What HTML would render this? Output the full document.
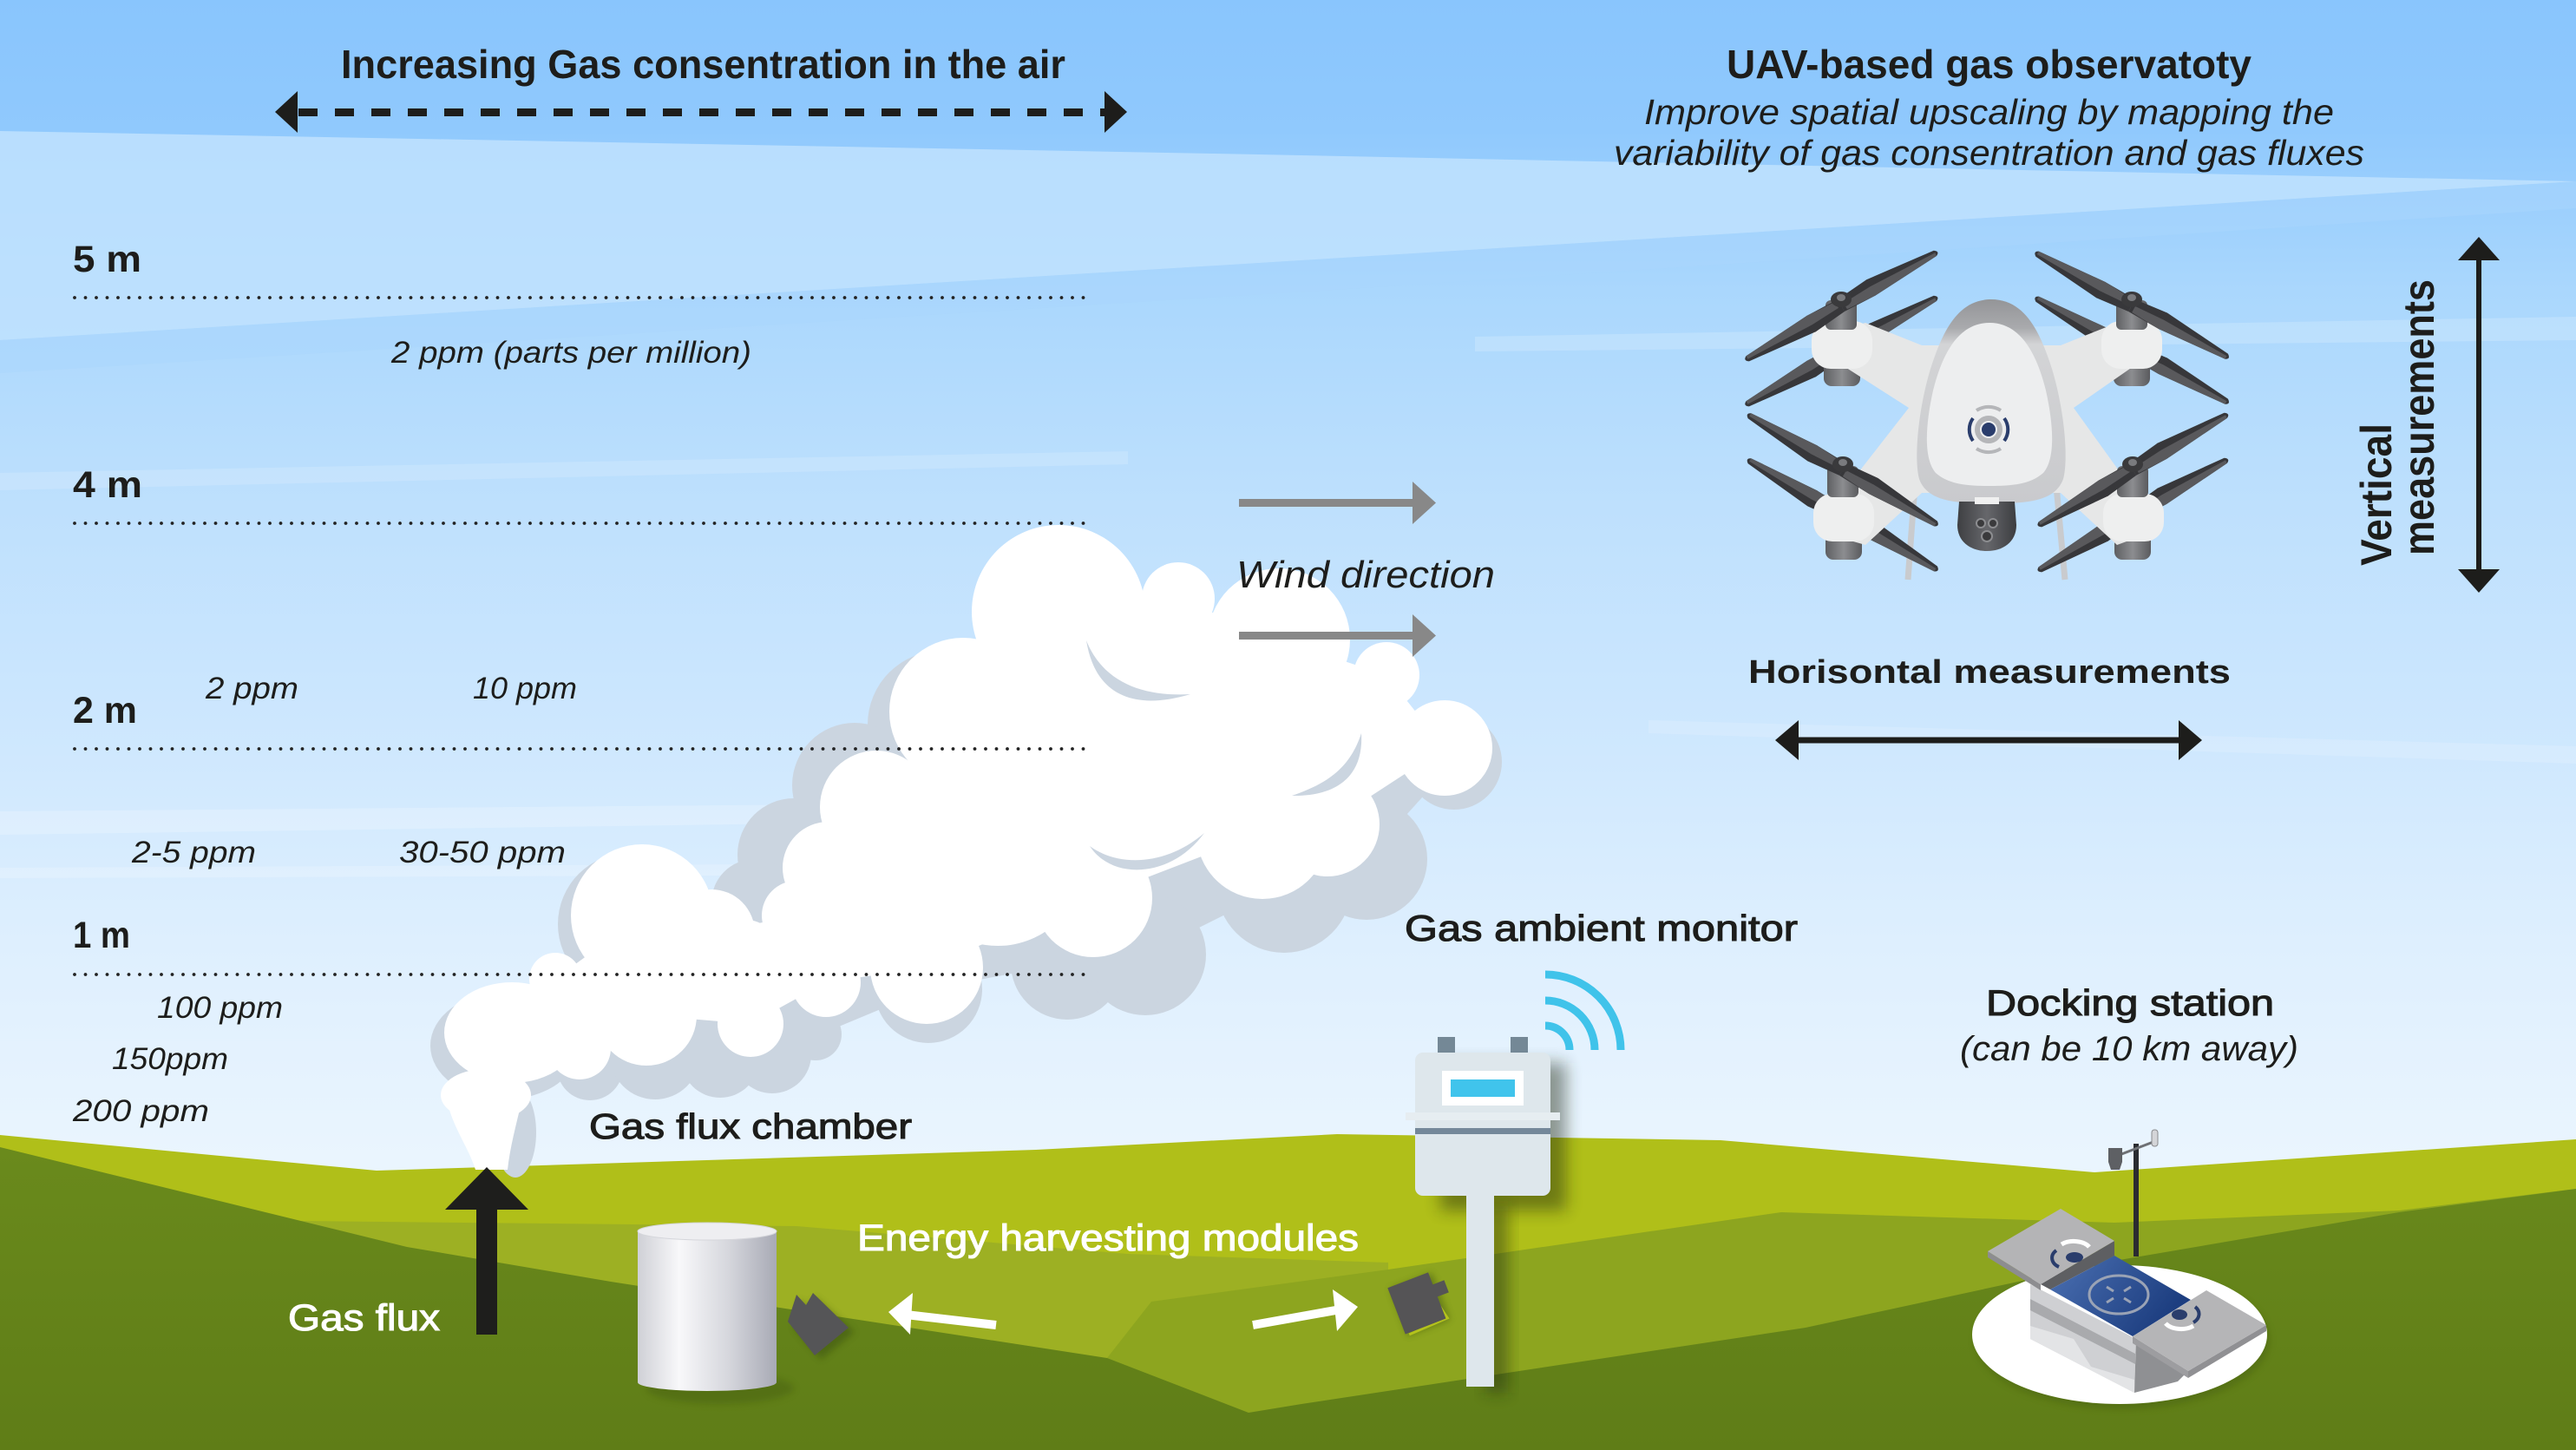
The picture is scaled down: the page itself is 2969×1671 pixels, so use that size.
<!DOCTYPE html>
<html><head><meta charset="utf-8">
<style>
html,body{margin:0;padding:0;width:2969px;height:1671px;overflow:hidden;background:#EEF7FE;}
svg{display:block}
text{font-family:"Liberation Sans",sans-serif;fill:#1D1D1B;}
.it{font-style:italic;}
.bd{font-weight:bold;}
.md{stroke:#1D1D1B;stroke-width:1.1px;}
.wh{fill:#FFFFFF;stroke:#FFFFFF;stroke-width:1.1px;}
</style></head><body>
<svg width="2969" height="1671" viewBox="0 0 2969 1671" xmlns="http://www.w3.org/2000/svg">
<defs>
 <linearGradient id="sky" x1="0" y1="0" x2="0" y2="1671" gradientUnits="userSpaceOnUse">
  <stop offset="0" stop-color="#89C5FD"/>
  <stop offset="0.09" stop-color="#90C9FD"/>
  <stop offset="0.2" stop-color="#AAD7FD"/>
  <stop offset="0.35" stop-color="#BEE0FD"/>
  <stop offset="0.5" stop-color="#CDE7FE"/>
  <stop offset="0.65" stop-color="#DEEFFE"/>
  <stop offset="0.8" stop-color="#EAF5FE"/>
  <stop offset="1" stop-color="#EEF7FE"/>
 </linearGradient>
 <linearGradient id="dark" x1="0" y1="1320" x2="0" y2="1671" gradientUnits="userSpaceOnUse">
  <stop offset="0" stop-color="#6A8A1C"/>
  <stop offset="1" stop-color="#5F7D17"/>
 </linearGradient>
 <linearGradient id="cyl" x1="735" y1="0" x2="895" y2="0" gradientUnits="userSpaceOnUse">
  <stop offset="0" stop-color="#CFD0D6"/>
  <stop offset="0.3" stop-color="#F8F8FA"/>
  <stop offset="0.65" stop-color="#D6D7DD"/>
  <stop offset="1" stop-color="#A8AAB5"/>
 </linearGradient>
 <linearGradient id="egg" x1="0" y1="345" x2="0" y2="580" gradientUnits="userSpaceOnUse">
  <stop offset="0" stop-color="#949598"/>
  <stop offset="0.14" stop-color="#A9AAAD"/>
  <stop offset="0.22" stop-color="#D3D4D6"/>
  <stop offset="1" stop-color="#C9CACD"/>
 </linearGradient>
 <linearGradient id="motor" x1="0" y1="0" x2="1" y2="0">
  <stop offset="0" stop-color="#5E5F62"/>
  <stop offset="0.5" stop-color="#8C8D90"/>
  <stop offset="1" stop-color="#5A5B5E"/>
 </linearGradient>
 <linearGradient id="pad" x1="2363" y1="1450" x2="2480" y2="1540" gradientUnits="userSpaceOnUse">
  <stop offset="0" stop-color="#4B70B2"/>
  <stop offset="1" stop-color="#1D3E80"/>
 </linearGradient>
 <linearGradient id="cam" x1="0" y1="0" x2="1" y2="0">
  <stop offset="0" stop-color="#3E3F42"/>
  <stop offset="0.5" stop-color="#66676B"/>
  <stop offset="1" stop-color="#3C3D40"/>
 </linearGradient>
 <filter id="blur" x="-50%" y="-50%" width="200%" height="200%"><feGaussianBlur stdDeviation="9"/></filter>
 <filter id="blur4" x="-50%" y="-50%" width="200%" height="200%"><feGaussianBlur stdDeviation="4"/></filter>
 <g id="blade">
  <path d="M0,-8 L40,-12 L124,-4 Q130,0 124,3 L40,9 L0,8 Z" fill="#37373A"/>
  <path d="M4,-1 L40,-3 L124,-1 L124,3 L40,9 L4,7 Z" fill="#59595C"/>
 </g>
</defs>

<!-- SKY -->
<rect x="0" y="0" width="2969" height="1671" fill="url(#sky)"/>
<polygon points="0,151 1400,177 2969,209 1500,300 0,392" fill="#BFE2FE" opacity="0.85"/>
<polygon points="0,392 1500,300 2969,209 2969,240 1600,330 0,430" fill="#A9D6FD" opacity="0.5"/>
<polygon points="1700,388 2969,365 2969,392 1700,405" fill="#FFFFFF" opacity="0.18"/>
<polygon points="0,545 1300,520 1300,535 0,565" fill="#FFFFFF" opacity="0.15"/>
<polygon points="0,935 1200,925 1200,945 0,962" fill="#FFFFFF" opacity="0.22"/>
<polygon points="0,1000 1100,995 1100,1008 0,1012" fill="#FFFFFF" opacity="0.2"/>
<polygon points="1900,830 2969,860 2969,880 1900,845" fill="#FFFFFF" opacity="0.15"/>

<!-- GROUND -->
<polygon points="0,1308 434,1349 1194,1325 1541,1307 1983,1314 2414,1351 2969,1313 2969,1671 0,1671" fill="#B0BF19"/>
<polygon points="0,1407 347,1407 918,1413 1300,1445 1600,1455 1600,1671 0,1671" fill="#9DB023"/>
<polygon points="1327,1500 1600,1463 2053,1397 2437,1409 2765,1395 2969,1370 2969,1671 1276,1671 1276,1565" fill="#8DA51F"/>
<polygon points="0,1322 469,1437 704,1477 1276,1565 1439,1628 1500,1618 2081,1530 2437,1453 2765,1397 2969,1370 2969,1671 0,1671" fill="url(#dark)"/>

<!-- CLOUD shadow -->
<g fill="#CBD5E0">
 <polygon points="1085,835 985,905 915,985 870,1040 725,1065 582,1205 680,1230 755,1215 830,1220 890,1215 1070,1140 1230,1110 1320,1100 1480,1020 1575,990 1676,878 1500,850 1200,800"/>
 <circle cx="1085" cy="835" r="85"/>
 <circle cx="985" cy="905" r="72"/>
 <circle cx="915" cy="985" r="65"/>
 <circle cx="870" cy="1040" r="50"/>
 <circle cx="725" cy="1065" r="82"/>
 <ellipse cx="582" cy="1205" rx="86" ry="62"/>
 <circle cx="680" cy="1230" r="38"/>
 <circle cx="755" cy="1215" r="52"/>
 <circle cx="830" cy="1220" r="45"/>
 <circle cx="890" cy="1215" r="45"/>
 <circle cx="940" cy="1192" r="30"/>
 <circle cx="1070" cy="1140" r="62"/>
 <circle cx="1230" cy="1110" r="65"/>
 <circle cx="1320" cy="1100" r="70"/>
 <circle cx="1480" cy="1020" r="78"/>
 <circle cx="1575" cy="990" r="70"/>
 <circle cx="1676" cy="878" r="55"/>
 <ellipse cx="594" cy="1305" rx="24" ry="52"/>
</g>
<!-- CLOUD white -->
<g fill="#FFFFFF">
 <polygon points="1110,820 1220,705 1358,690 1474,737 1598,778 1665,862 1530,950 1455,960 1260,1035 1068,1115 952,1132 865,1180 745,1170 668,1208 590,1190 640,1128 740,1055 820,1075 918,1055 955,1000 1010,930"/>
 <circle cx="1220" cy="705" r="100"/>
 <circle cx="1358" cy="690" r="42"/>
 <circle cx="1474" cy="737" r="82"/>
 <circle cx="1598" cy="778" r="38"/>
 <circle cx="1665" cy="862" r="55"/>
 <circle cx="1530" cy="950" r="60"/>
 <circle cx="1455" cy="960" r="76"/>
 <circle cx="1260" cy="1035" r="68"/>
 <circle cx="1068" cy="1115" r="65"/>
 <circle cx="952" cy="1132" r="40"/>
 <circle cx="865" cy="1180" r="38"/>
 <circle cx="745" cy="1170" r="58"/>
 <circle cx="668" cy="1208" r="36"/>
 <ellipse cx="590" cy="1190" rx="78" ry="58"/>
 <circle cx="640" cy="1128" r="30"/>
 <circle cx="740" cy="1055" r="82"/>
 <circle cx="820" cy="1075" r="50"/>
 <circle cx="860" cy="1095" r="35"/>
 <circle cx="918" cy="1055" r="40"/>
 <circle cx="955" cy="1000" r="53"/>
 <circle cx="1010" cy="930" r="65"/>
 <circle cx="1110" cy="820" r="85"/>
 <circle cx="1260" cy="870" r="140"/>
 <circle cx="1380" cy="860" r="110"/>
 <circle cx="1150" cy="990" r="100"/>
 <ellipse cx="560" cy="1262" rx="52" ry="30"/>
 <path d="M515,1268 C522,1300 540,1322 548,1348 L585,1348 C588,1320 596,1292 603,1262 Z"/>
</g>
<g fill="#CBD5E0">
 <path d="M1252,738 C1262,800 1305,820 1372,800 C1320,803 1272,788 1252,738 Z"/>
 <path d="M1569,845 C1572,895 1540,918 1489,917 C1530,903 1556,885 1569,845 Z"/>
 <path d="M1256,975 C1282,1015 1350,1012 1388,960 C1345,997 1290,1000 1256,975 Z"/>
</g>

<!-- Dotted height lines -->
<g stroke="#222222" stroke-width="3.8" stroke-linecap="round" stroke-dasharray="0 12.5" fill="none">
 <line x1="86" y1="343" x2="1254" y2="343"/>
 <line x1="86" y1="603" x2="1254" y2="603"/>
 <line x1="86" y1="863" x2="1254" y2="863"/>
 <line x1="86" y1="1123" x2="1254" y2="1123"/>
</g>

<!-- Top dashed double arrow -->
<line x1="344" y1="129.5" x2="1274" y2="129.5" stroke="#1D1D1B" stroke-width="9" stroke-dasharray="22 20"/>
<polygon points="317,129 343,105 343,153" fill="#1D1D1B"/>
<polygon points="1299,129 1273,105 1273,153" fill="#1D1D1B"/>

<!-- Titles -->
<text class="bd" x="393" y="90" font-size="46" textLength="835" lengthAdjust="spacingAndGlyphs">Increasing Gas consentration in the air</text>
<text class="bd" x="1990" y="90" font-size="46" textLength="605" lengthAdjust="spacingAndGlyphs">UAV-based gas observatoty</text>
<text class="it" x="1895" y="143" font-size="41" textLength="795" lengthAdjust="spacingAndGlyphs">Improve spatial upscaling by mapping the</text>
<text class="it" x="1860" y="190" font-size="41" textLength="865" lengthAdjust="spacingAndGlyphs">variability of gas consentration and gas fluxes</text>

<!-- Height labels -->
<text class="bd" x="84" y="313" font-size="43" textLength="79" lengthAdjust="spacingAndGlyphs">5 m</text>
<text class="bd" x="84" y="573" font-size="43" textLength="80" lengthAdjust="spacingAndGlyphs">4 m</text>
<text class="bd" x="84" y="833" font-size="43" textLength="74" lengthAdjust="spacingAndGlyphs">2 m</text>
<text class="bd" x="84" y="1092" font-size="43" textLength="66" lengthAdjust="spacingAndGlyphs">1 m</text>

<!-- ppm labels -->
<text class="it" x="451" y="418" font-size="35" textLength="415" lengthAdjust="spacingAndGlyphs">2 ppm (parts per million)</text>
<text class="it" x="237" y="805" font-size="35" textLength="107" lengthAdjust="spacingAndGlyphs">2 ppm</text>
<text class="it" x="545" y="805" font-size="35" textLength="120" lengthAdjust="spacingAndGlyphs">10 ppm</text>
<text class="it" x="152" y="994" font-size="35" textLength="143" lengthAdjust="spacingAndGlyphs">2-5 ppm</text>
<text class="it" x="460" y="994" font-size="35" textLength="192" lengthAdjust="spacingAndGlyphs">30-50 ppm</text>
<text class="it" x="181" y="1173" font-size="35" textLength="145" lengthAdjust="spacingAndGlyphs">100 ppm</text>
<text class="it" x="129" y="1232" font-size="35" textLength="134" lengthAdjust="spacingAndGlyphs">150ppm</text>
<text class="it" x="84" y="1292" font-size="35" textLength="157" lengthAdjust="spacingAndGlyphs">200 ppm</text>

<!-- Wind -->
<g fill="#888888">
 <rect x="1428" y="575" width="202" height="9"/>
 <polygon points="1628,555 1655,579.5 1628,604"/>
 <rect x="1428" y="728" width="202" height="9"/>
 <polygon points="1628,708 1655,732.5 1628,757"/>
</g>
<text class="it" x="1425" y="677" font-size="44" textLength="298" lengthAdjust="spacingAndGlyphs">Wind direction</text>

<!-- Gas flux arrow -->
<rect x="549" y="1390" width="24" height="148" fill="#1E1E1C"/>
<polygon points="561,1345 609,1394 513,1394" fill="#1E1E1C"/>
<text class="wh" x="332" y="1533" font-size="43" textLength="175" lengthAdjust="spacingAndGlyphs">Gas flux</text>
<text class="md" x="679" y="1312" font-size="41" textLength="372" lengthAdjust="spacingAndGlyphs">Gas flux chamber</text>
<text class="wh" x="988" y="1441" font-size="43" textLength="578" lengthAdjust="spacingAndGlyphs">Energy harvesting modules</text>

<!-- Cylinder chamber -->
<ellipse cx="830" cy="1600" rx="85" ry="18" fill="#3E5510" opacity="0.35" filter="url(#blur4)"/>
<rect x="735" y="1419" width="160" height="174" fill="url(#cyl)"/>
<ellipse cx="815" cy="1593" rx="80" ry="10" fill="url(#cyl)"/>
<ellipse cx="815" cy="1419" rx="80" ry="10" fill="#EEEEF1" stroke="#D5D6DB" stroke-width="1"/>

<!-- Module 1 -->
<polygon points="915,1530 922,1497 932,1508 940,1495 985,1535 946,1567" fill="#2F4210" opacity="0.4" filter="url(#blur4)"/>
<polygon points="908,1523 918,1492 929,1504 937,1490 978,1530 939,1562" fill="#555557"/>

<!-- White arrows -->
<line x1="1148" y1="1527" x2="1044" y2="1515" stroke="#FFFFFF" stroke-width="10"/>
<polygon points="1024,1512 1052,1490 1049,1538" fill="#FFFFFF"/>
<line x1="1444" y1="1527" x2="1545" y2="1509" stroke="#FFFFFF" stroke-width="10"/>
<polygon points="1565,1506 1536,1486 1541,1534" fill="#FFFFFF"/>

<!-- Module 2 -->
<g transform="translate(1634,1502) rotate(-21)">
 <rect x="-24" y="-27" width="52" height="58" fill="#2F4210" opacity="0.4" filter="url(#blur4)"/>
 <rect x="22" y="-14" width="16" height="15" fill="#555456"/>
 <path d="M22,10 L26,28 L-22,30" fill="none" stroke="#B4C21C" stroke-width="3"/>
 <rect x="-26" y="-29" width="50" height="57" fill="#555456"/>
</g>

<!-- Gas ambient monitor -->
<rect x="1660" y="1225" width="145" height="170" fill="#1B2608" opacity="0.45" filter="url(#blur)"/>
<rect x="1712" y="1390" width="26" height="215" fill="#1B2608" opacity="0.45" filter="url(#blur)"/>
<rect x="1690" y="1375" width="32" height="223" fill="#DEE7EC"/>
<rect x="1657" y="1195" width="20" height="20" fill="#748896"/>
<rect x="1741" y="1195" width="20" height="20" fill="#748896"/>
<rect x="1631" y="1213" width="156" height="165" rx="9" fill="#DEE7EC"/>
<rect x="1620" y="1282" width="178" height="9" fill="#E6EDF1"/>
<rect x="1631" y="1300" width="156" height="7" fill="#74889A"/>
<rect x="1662" y="1234" width="94" height="40" fill="#FFFFFF"/>
<rect x="1672" y="1244" width="74" height="20" fill="#40C4EC"/>
<g fill="none" stroke="#40C3EA" stroke-width="9">
 <path d="M1781,1182 A28,28 0 0 1 1809,1210"/>
 <path d="M1781,1153 A57,57 0 0 1 1838,1210"/>
 <path d="M1781,1123 A87,87 0 0 1 1868,1210"/>
</g>
<text class="md" x="1619" y="1084" font-size="42" textLength="453" lengthAdjust="spacingAndGlyphs">Gas ambient monitor</text>

<!-- Docking station -->
<text class="md" x="2289" y="1170" font-size="42" textLength="332" lengthAdjust="spacingAndGlyphs">Docking station</text>
<text class="it" x="2259" y="1222" font-size="40" textLength="390" lengthAdjust="spacingAndGlyphs">(can be 10 km away)</text>
<ellipse cx="2446" cy="1544" rx="170" ry="80" fill="#3E5510" opacity="0.35" filter="url(#blur4)"/>
<ellipse cx="2443" cy="1538" rx="170" ry="80" fill="#FFFFFF"/>
<rect x="2459" y="1318" width="6" height="130" fill="#2B2C30"/>
<line x1="2440" y1="1332" x2="2487" y2="1314" stroke="#6E7074" stroke-width="3"/>
<path d="M2430,1323 h16 v16 l-3,9 h-10 l-3,-9 Z" fill="#5E6064"/>
<rect x="2480" y="1302" width="7" height="19" rx="3" fill="#D4D5D8" stroke="#8A8B8E" stroke-width="1"/>
<polygon points="2340,1480 2340,1543 2460,1605 2462,1543" fill="#CFD0D3"/>
<polygon points="2340,1497 2461,1560 2461,1572 2340,1510" fill="#A9AAAD"/>
<polygon points="2340,1528 2390,1543 2410,1575 2460,1590 2460,1605 2340,1543" fill="#E3E4E6"/>
<polygon points="2462,1543 2522,1580 2510,1592 2460,1605" fill="#8F9093"/>
<polygon points="2352,1480 2437,1430 2437,1447 2363,1486" fill="#5E5F62"/>
<polygon points="2363,1486 2437,1447 2525,1498 2458,1540" fill="url(#pad)"/>
<ellipse cx="2442" cy="1492" rx="34" ry="22" fill="none" stroke="#9AA3B5" stroke-width="3"/>
<g stroke="#9AA3B5" stroke-width="3">
 <line x1="2428" y1="1483" x2="2436" y2="1488"/>
 <line x1="2456" y1="1483" x2="2448" y2="1488"/>
 <line x1="2428" y1="1501" x2="2436" y2="1496"/>
 <line x1="2456" y1="1501" x2="2448" y2="1496"/>
</g>
<polygon points="2291,1442 2352,1480 2352,1487 2291,1449" fill="#8D8D90"/>
<polygon points="2291,1442 2375,1393 2437,1430 2352,1480" fill="#B4B4B6"/>
<g fill="none" stroke-width="4">
 <path d="M2376,1434 A20,12 0 0 1 2408,1437" stroke="#FFFFFF" stroke-width="5"/>
 <path d="M2370,1441 A16,12 0 0 0 2373,1460" stroke="#2A3D6C"/>
</g>
<ellipse cx="2391" cy="1449" rx="10" ry="6" fill="#2A3D6C"/>
<polygon points="2458,1540 2522,1580 2522,1588 2458,1548" fill="#9D9DA0"/>
<polygon points="2522,1580 2612,1527 2612,1534 2522,1588" fill="#909093"/>
<polygon points="2458,1540 2543,1487 2612,1527 2522,1580" fill="#B5B5B7"/>
<ellipse cx="2512" cy="1515" rx="9" ry="6" fill="#2A3D6C"/>
<g fill="none" stroke-width="4">
 <path d="M2496,1525 A20,12 0 0 0 2528,1528" stroke="#FFFFFF" stroke-width="5"/>
 <path d="M2530,1506 A16,12 0 0 1 2528,1524" stroke="#2A3D6C"/>
</g>

<!-- Horizontal measurements -->
<text class="bd" x="2015" y="787" font-size="38" textLength="556" lengthAdjust="spacingAndGlyphs">Horisontal measurements</text>
<line x1="2068" y1="853" x2="2516" y2="853" stroke="#1D1D1B" stroke-width="7"/>
<polygon points="2046,853 2073,830 2073,876" fill="#1D1D1B"/>
<polygon points="2538,853 2511,830 2511,876" fill="#1D1D1B"/>

<!-- Vertical measurements -->
<line x1="2857" y1="295" x2="2857" y2="661" stroke="#1D1D1B" stroke-width="6"/>
<polygon points="2857,273 2833,300 2881,300" fill="#1D1D1B"/>
<polygon points="2857,683 2833,656 2881,656" fill="#1D1D1B"/>
<text class="bd" transform="translate(2756,652) rotate(-90)" font-size="50" textLength="164" lengthAdjust="spacingAndGlyphs">Vertical</text>
<text class="bd" transform="translate(2805,640) rotate(-90)" font-size="50" textLength="318" lengthAdjust="spacingAndGlyphs">measurements</text>

<!-- DRONE -->
<g>
 <line x1="2207" y1="560" x2="2199" y2="668" stroke="#C9CBCE" stroke-width="7"/>
 <line x1="2370" y1="560" x2="2380" y2="668" stroke="#C9CBCE" stroke-width="7"/>
 <use href="#blade" transform="translate(2122,404) rotate(-28.8)"/>
 <use href="#blade" transform="translate(2122,404) rotate(150.6)"/>
 <use href="#blade" transform="translate(2457,404) rotate(-151.2)"/>
 <use href="#blade" transform="translate(2457,404) rotate(28.5)"/>
 <use href="#blade" transform="translate(2124,593) rotate(-149.9)"/>
 <use href="#blade" transform="translate(2124,593) rotate(30.5)"/>
 <use href="#blade" transform="translate(2458,593) rotate(-29.9)"/>
 <use href="#blade" transform="translate(2458,593) rotate(149.5)"/>
 <rect x="2102" y="415" width="42" height="30" rx="9" fill="url(#motor)"/>
 <rect x="2436" y="415" width="42" height="30" rx="9" fill="url(#motor)"/>
 <rect x="2104" y="614" width="42" height="31" rx="9" fill="url(#motor)"/>
 <rect x="2437" y="614" width="42" height="31" rx="9" fill="url(#motor)"/>
 <polygon points="2150,372 2215,398 2375,398 2440,372 2462,380 2462,420 2390,470 2462,570 2462,620 2440,628 2375,568 2215,568 2150,628 2122,620 2122,570 2200,470 2122,420 2122,380" fill="#E6E7E7"/>
 <rect x="2088" y="370" width="70" height="55" rx="22" fill="#EEEFEF"/>
 <rect x="2422" y="370" width="70" height="55" rx="22" fill="#EEEFEF"/>
 <rect x="2090" y="569" width="70" height="55" rx="22" fill="#EEEFEF"/>
 <rect x="2424" y="569" width="70" height="55" rx="22" fill="#EEEFEF"/>
 <rect x="2104" y="346" width="36" height="34" rx="6" fill="url(#motor)"/>
 <rect x="2439" y="346" width="36" height="34" rx="6" fill="url(#motor)"/>
 <rect x="2106" y="537" width="36" height="36" rx="6" fill="url(#motor)"/>
 <rect x="2440" y="537" width="36" height="36" rx="6" fill="url(#motor)"/>
 <path d="M2295,345 C2335,345 2352,385 2365,425 C2380,475 2384,530 2378,552 C2368,580 2330,580 2295,580 C2260,580 2222,580 2212,552 C2206,530 2210,475 2225,425 C2238,385 2255,345 2295,345 Z" fill="url(#egg)"/>
 <path d="M2293,372 C2330,372 2348,410 2358,450 C2368,495 2368,530 2355,545 C2340,558 2320,560 2293,560 C2266,560 2246,558 2231,545 C2218,530 2218,495 2228,450 C2238,410 2256,372 2293,372 Z" fill="#EDEEEF"/>
 <circle cx="2292" cy="495" r="13" fill="none" stroke="#B5B6B9" stroke-width="6"/>
 <circle cx="2292" cy="495" r="8" fill="#2A3D6C"/>
 <g fill="none" stroke-width="4">
  <path d="M2274,482 A22,22 0 0 0 2274,508" stroke="#2A3D6C"/>
  <path d="M2310,482 A22,22 0 0 1 2310,508" stroke="#2A3D6C"/>
  <path d="M2278,473 A26,26 0 0 1 2306,473" stroke="#B5B6B9"/>
  <path d="M2278,517 A26,26 0 0 0 2306,517" stroke="#B5B6B9"/>
 </g>
 <path d="M2258,578 L2322,578 L2324,605 C2324,625 2308,635 2290,635 C2272,635 2256,625 2256,605 Z" fill="url(#cam)"/>
 <rect x="2276" y="573" width="28" height="8" fill="#F0F0F0"/>
 <g fill="#3A3A3C" stroke="#8C8D90" stroke-width="2">
  <circle cx="2283" cy="603" r="5"/>
  <circle cx="2297" cy="603" r="5"/>
  <circle cx="2290" cy="618" r="6"/>
 </g>
 <use href="#blade" transform="translate(2122,352) rotate(-28.8)"/>
 <use href="#blade" transform="translate(2122,352) rotate(150.6)"/>
 <use href="#blade" transform="translate(2457,352) rotate(-151.2)"/>
 <use href="#blade" transform="translate(2457,352) rotate(28.5)"/>
 <use href="#blade" transform="translate(2124,541) rotate(-149.9)"/>
 <use href="#blade" transform="translate(2124,541) rotate(30.5)"/>
 <use href="#blade" transform="translate(2458,541) rotate(-29.9)"/>
 <use href="#blade" transform="translate(2458,541) rotate(149.5)"/>
 <ellipse cx="2122" cy="345" rx="12" ry="9" fill="#3A3A3C"/><ellipse cx="2122" cy="343" rx="5" ry="4" fill="#7A7B7E"/>
 <ellipse cx="2457" cy="345" rx="12" ry="9" fill="#3A3A3C"/><ellipse cx="2457" cy="343" rx="5" ry="4" fill="#7A7B7E"/>
 <ellipse cx="2124" cy="535" rx="12" ry="9" fill="#3A3A3C"/><ellipse cx="2124" cy="533" rx="5" ry="4" fill="#7A7B7E"/>
 <ellipse cx="2458" cy="535" rx="12" ry="9" fill="#3A3A3C"/><ellipse cx="2458" cy="533" rx="5" ry="4" fill="#7A7B7E"/>
</g>
</svg>
</body></html>
